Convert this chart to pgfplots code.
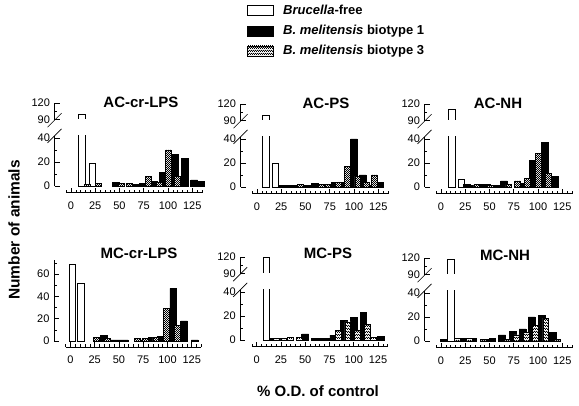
\documentclass[border=0pt]{standalone}
\usepackage{pgfplots}
\pgfplotsset{compat=1.18}
\usepackage{fontspec}
\setmainfont{Liberation Sans}
\usetikzlibrary{patterns}
\pgfdeclarepatternformonly{checker}{\pgfpointorigin}{\pgfpoint{2.4pt}{2.4pt}}{\pgfpoint{2.4pt}{2.4pt}}{%
  \pgfpathrectangle{\pgfpointorigin}{\pgfpoint{1.2pt}{1.2pt}}%
  \pgfpathrectangle{\pgfpoint{1.2pt}{1.2pt}}{\pgfpoint{1.2pt}{1.2pt}}%
  \pgfusepath{fill}}
\pgfplotsset{
  panel/.style={
    x=0.97pt, y=1.2pt, anchor=origin,
    xmin=-17, xmax=135, ymin=-5.5, ymax=70,
    axis x line*=bottom, axis y line*=left, axis line style={draw=none},
    tick align=inside, clip=false,
    xtick={0,25,...,125}, minor xtick={-5,0,...,135},
    major tick length=5pt, minor tick length=2.7pt,
    every tick/.style={black, line width=0.6pt},
    ytick={0,20,40,55.5,69}, yticklabels={0,20,40,90,120},
    minor ytick={10,30,62.25},
    y filter/.expression={y>=90 ? 55.5+(y-90)*0.45 : y},
    ticklabel style={font=\fontsize{11}{12}\selectfont},
    xticklabel style={yshift=-5.5pt},
    yticklabel style={xshift=-1pt},
    /pgf/number format/assume math mode=true,
  },
  wbar/.style={ybar, bar shift=0pt, bar width=7, draw=black, fill=white, line width=0.7pt},
  bbar/.style={ybar, bar shift=0pt, bar width=7, draw=black, fill=black, line width=0.7pt},
  cbar/.style={ybar, bar shift=0pt, bar width=6, draw=black, fill=white, line width=0.7pt, postaction={pattern=checker}},
}
\newcommand{\brokenaxis}{%
  \draw[line width=0.7pt] (axis cs:-17,0) -- (axis cs:-17,41.8);
  \draw[line width=0.7pt] (axis cs:-17,54.8) -- (axis cs:-17,69);
  \draw[line width=0.7pt] (axis cs:-17,41.8) ++(-7pt,-7pt) -- ++(14pt,14pt);
  \draw[line width=0.7pt] (axis cs:-17,54.8) ++(-7pt,-7pt) -- ++(14pt,14pt);
  \draw[line width=0.7pt] (axis cs:-5,-5.5) -- (axis cs:135,-5.5);
}
\begin{document}
\begin{tikzpicture}
\path[use as bounding box] (0,0) rectangle (579pt,406pt);

% ---------- AC-cr-LPS
\begin{axis}[panel, at={(71pt,220pt)}]
\addplot[wbar] coordinates {(11,100) (22,19)};
\addplot[bbar] coordinates {(46,3) (65,1) (70,1) (74,2) (86,4) (95,11) (107,26) (117,23) (127,5) (134,4)};
\addplot[cbar] coordinates {(17,1) (28,2) (52,2) (60,2) (80,8) (91,3) (100,30) (110,8)};
\fill[white] (axis cs:6.6,42.5) rectangle (axis cs:15.4,55.5);
\brokenaxis
\end{axis}

% ---------- AC-PS
\begin{axis}[panel, at={(257pt,219pt)}]
\addplot[wbar] coordinates {(9.5,100) (19,20)};
\addplot[bbar] coordinates {(26,1) (33,1) (40,1) (51,1) (60,3) (80,4) (87,4) (100,40) (109,10) (117,1) (127,4)};
\addplot[cbar] coordinates {(45,2) (66,2) (73,2) (84,4) (93,17) (104,9) (113,4) (121,10)};
\fill[white] (axis cs:5.1,42.5) rectangle (axis cs:13.9,55.5);
\brokenaxis
\end{axis}

% ---------- AC-NH
\begin{axis}[panel, at={(441pt,219pt)}]
\addplot[wbar] coordinates {(11,110) (21,6)};
\addplot[bbar] coordinates {(27,2) (32,1) (42,2) (47,2) (57,1) (65,5) (84,3) (95,22) (107,37) (117,9)};
\addplot[cbar] coordinates {(37,2) (51,1) (70,2) (79,5) (89,7) (100,28) (111,11)};
\fill[white] (axis cs:6.6,42.5) rectangle (axis cs:15.4,55.5);
\brokenaxis
\end{axis}

% ---------- MC-cr-LPS
\begin{axis}[panel, at={(70.5pt,65pt)}, y=1.117pt, ymax=73,
  ytick={0,20,40,60}, yticklabels={0,20,40,60}, minor ytick={10,30,50,70}]
\addplot[wbar] coordinates {(2,69) (11,52)};
\addplot[bbar] coordinates {(34,5) (44,1) (50,1) (56,1) (72,1) (84,3) (93,4) (106,47) (117,18) (128,1)};
\addplot[cbar] coordinates {(27,3) (38,2) (69,2) (77,2) (88,3) (99,29) (110,14)};
\draw[line width=0.7pt] (axis cs:-17,0) -- (axis cs:-17,72.5);
\draw[line width=0.7pt] (axis cs:-5,-5.5) -- (axis cs:135,-5.5);
\end{axis}

% ---------- MC-PS
\begin{axis}[panel, at={(256.7pt,66pt)}]
\addplot[wbar] coordinates {(10,119)};
\addplot[bbar] coordinates {(17,1) (24,1) (50,5) (60,1) (66,1) (72,1) (79,4) (90,16) (100,19) (110,23) (128,3)};
\addplot[cbar] coordinates {(20,1) (28,1) (35,2) (44,2) (84,8) (94,15) (104,8) (114,13) (120,2)};
\fill[white] (axis cs:5.6,42.5) rectangle (axis cs:14.4,55.5);
\brokenaxis
\end{axis}

% ---------- MC-NH
\begin{axis}[panel, at={(441pt,65pt)}]
\addplot[wbar] coordinates {(10.5,118)};
\addplot[bbar] coordinates {(3,1) (24,2) (33,2) (48,1) (53,2) (63,5) (74,8) (84,10) (93.5,20) (104,21) (115,7)};
\addplot[cbar] coordinates {(17,2) (29,2) (44,1) (68,1) (78,5) (88,7) (97,13) (108,19) (120,1)};
\fill[white] (axis cs:6.1,42.5) rectangle (axis cs:14.9,55.5);
\brokenaxis
\end{axis}

% ---------- titles
\begin{scope}[every node/.style={font=\fontsize{15}{17}\selectfont\bfseries, inner sep=0}]
\node at (141pt,304pt) {AC-cr-LPS};
\node at (326pt,303pt) {AC-PS};
\node at (498pt,303pt) {AC-NH};
\node at (139pt,153pt) {MC-cr-LPS};
\node at (328pt,153pt) {MC-PS};
\node at (505pt,151pt) {MC-NH};
\end{scope}

% ---------- axis labels
\node[rotate=90, inner sep=0, font=\fontsize{15.5}{17}\selectfont\bfseries] at (14pt,176pt) {Number of animals};
\node[inner sep=0, font=\fontsize{15}{17}\selectfont\bfseries] at (318pt,15pt) {\% O.D. of control};

% ---------- legend
\draw[line width=0.7pt, fill=white] (247pt,391pt) rectangle (273pt,401pt);
\draw[line width=0.7pt, fill=black] (247pt,369.5pt) rectangle (273pt,379.5pt);
\draw[line width=0.7pt, fill=white, postaction={pattern=checker}] (247pt,350pt) rectangle (273pt,360pt);
\begin{scope}[every node/.style={anchor=west, inner sep=0, font=\fontsize{13}{15}\selectfont\bfseries}]
\node at (283pt,396pt) {\textit{Brucella}-free};
\node at (283pt,374.5pt) {\textit{B. melitensis} biotype 1};
\node at (283pt,355pt) {\textit{B. melitensis} biotype 3};
\end{scope}
\end{tikzpicture}
\end{document}
